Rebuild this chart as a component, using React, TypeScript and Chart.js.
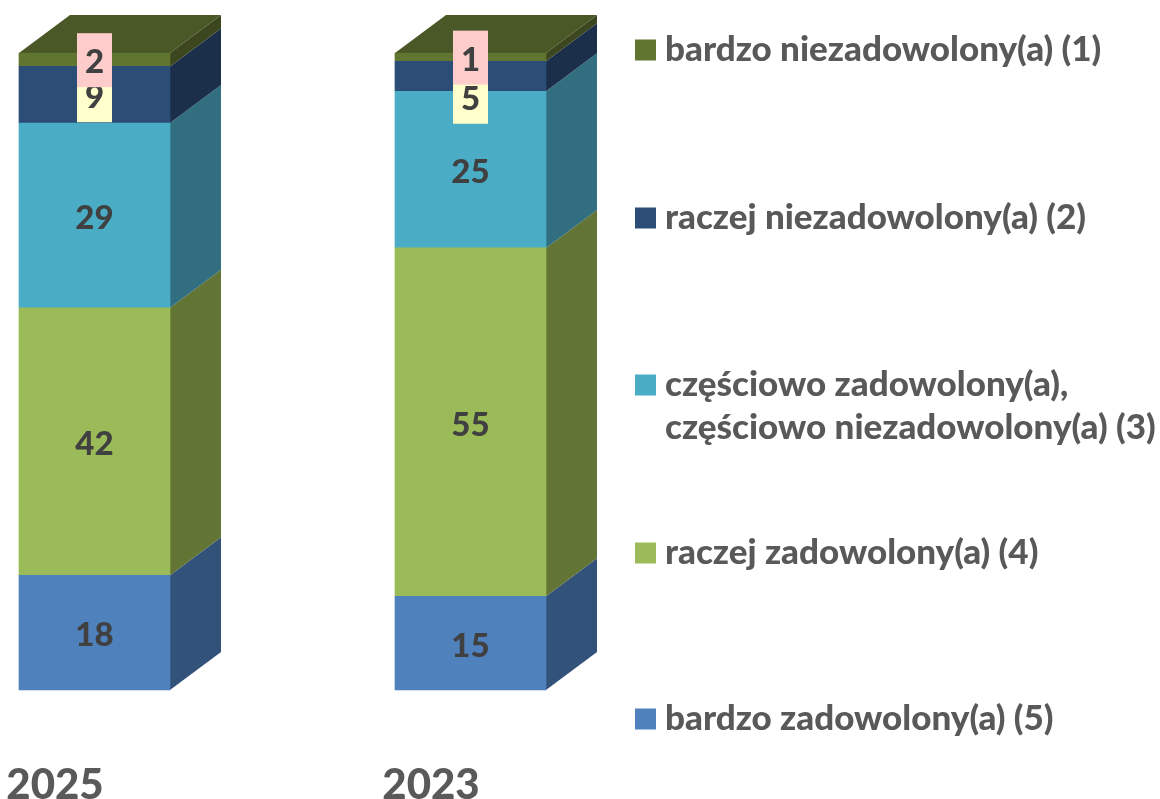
import React, { useEffect, useRef } from "react";
import { Chart, registerables } from "chart.js";

Chart.register(...registerables);

const years = ["2025", "2023"];
const veryPleased = [18, 14.7];
const ratherPleased = [42, 54.7];
const partly = [29, 24.6];
const ratherDispleased = [8.9, 4.7];
const veryDispleased = [2.1, 1.3];

const seriesLabels = [
  "bardzo zadowolony(a) (5)",
  "raczej zadowolony(a) (4)",
  ["częściowo zadowolony(a),", "częściowo niezadowolony(a) (3)"],
  "raczej niezadowolony(a) (2)",
  "bardzo niezadowolony(a) (1)",
];
const seriesValues = [veryPleased, ratherPleased, partly, ratherDispleased, veryDispleased];
const frontColors = ["#4F81BD", "#9BBB59", "#4AACC5", "#2C4D75", "#5F7530"];
const sideColors = ["#32527A", "#637535", "#316F80", "#1B2F4B", "#3C4720"];
const topColor = "#4A5726";
const labelBoxes: (string | null)[] = [null, null, null, "#FFFFCC", "#FFCCCC"];
const labelNudgeY = [
  [0, 0],
  [0, 0],
  [0, 0],
  [0, 20],
  [0, 0],
];

const DEPTH_X = 51;
const DEPTH_Y = 38;
const FONT = "Lato, Carlito, sans-serif";

const box3d = {
  id: "box3d",
  beforeDatasetsDraw(chart: any) {
    const { ctx } = chart;
    ctx.save();
    chart.data.datasets.forEach((_: any, d: number) => {
      chart.getDatasetMeta(d).data.forEach((bar: any) => {
        const right = bar.x + bar.width / 2;
        ctx.fillStyle = sideColors[d];
        ctx.beginPath();
        ctx.moveTo(right, bar.base);
        ctx.lineTo(right + DEPTH_X, bar.base - DEPTH_Y);
        ctx.lineTo(right + DEPTH_X, bar.y - DEPTH_Y);
        ctx.lineTo(right, bar.y);
        ctx.closePath();
        ctx.fill();
      });
    });
    const last = chart.getDatasetMeta(chart.data.datasets.length - 1);
    last.data.forEach((bar: any) => {
      const left = bar.x - bar.width / 2;
      const right = bar.x + bar.width / 2;
      ctx.fillStyle = topColor;
      ctx.beginPath();
      ctx.moveTo(left, bar.y);
      ctx.lineTo(right, bar.y);
      ctx.lineTo(right + DEPTH_X, bar.y - DEPTH_Y);
      ctx.lineTo(left + DEPTH_X, bar.y - DEPTH_Y);
      ctx.closePath();
      ctx.fill();
    });
    ctx.restore();
  },
  afterDatasetsDraw(chart: any) {
    const { ctx } = chart;
    ctx.save();
    ctx.font = `900 33px ${FONT}`;
    ctx.textAlign = "center";
    ctx.textBaseline = "middle";
    chart.data.datasets.forEach((_: any, d: number) => {
      chart.getDatasetMeta(d).data.forEach((bar: any, i: number) => {
        const cx = bar.x;
        const cy = (bar.y + bar.base) / 2 + labelNudgeY[d][i];
        if (labelBoxes[d]) {
          ctx.fillStyle = labelBoxes[d];
          ctx.fillRect(cx - 17.5, cy - 26.5, 35, 54);
        }
        ctx.fillStyle = "#404040";
        ctx.fillText(String(Math.round(seriesValues[d][i])), cx, cy + 3);
      });
    });
    // legend
    const rows = [719, 553, 385, 218, 50];
    ctx.textAlign = "left";
    ctx.font = `900 35px ${FONT}`;
    seriesLabels.forEach((label, d) => {
      ctx.fillStyle = frontColors[d];
      ctx.fillRect(635, rows[d] - 10.5, 21, 21);
      ctx.fillStyle = "#595959";
      const lines = Array.isArray(label) ? label : [label];
      lines.forEach((line, l) => ctx.fillText(line, 665, rows[d] + l * 43));
    });
    ctx.restore();
  },
};

export default function App() {
  const ref = useRef<HTMLCanvasElement>(null);
  useEffect(() => {
    const chart = new Chart(ref.current!, {
      type: "bar",
      data: {
        labels: years,
        datasets: seriesValues.map((values, d) => ({
          label: Array.isArray(seriesLabels[d]) ? (seriesLabels[d] as string[]).join(" ") : (seriesLabels[d] as string),
          data: values,
          backgroundColor: frontColors[d],
          barThickness: 151,
          clip: false as any,
        })),
      },
      options: {
        responsive: false,
        animation: false,
        layout: { padding: { left: 94.5, right: 689.5, top: 53, bottom: 0 } },
        plugins: { legend: { display: false }, tooltip: { enabled: false } },
        scales: {
          x: {
            stacked: true,
            offset: false,
            grid: { display: false },
            border: { display: false },
            afterFit(scale: any) {
              scale.height = 109;
              scale.paddingLeft = 0;
              scale.paddingRight = 0;
            },
            ticks: {
              autoSkip: false,
              maxRotation: 0,
              padding: 62,
              labelOffset: -39.5,
              color: "#595959",
              font: { family: FONT, size: 42, weight: "900" },
            },
          },
          y: { stacked: true, display: false, min: 0, max: 100 },
        },
      },
      plugins: [box3d],
    });
    return () => chart.destroy();
  }, []);
  return (
    <div style={{ position: "absolute", left: 0, top: 0, width: 1160, height: 799 }}>
      <canvas ref={ref} width={1160} height={799} style={{ display: "block" }} />
    </div>
  );
}
